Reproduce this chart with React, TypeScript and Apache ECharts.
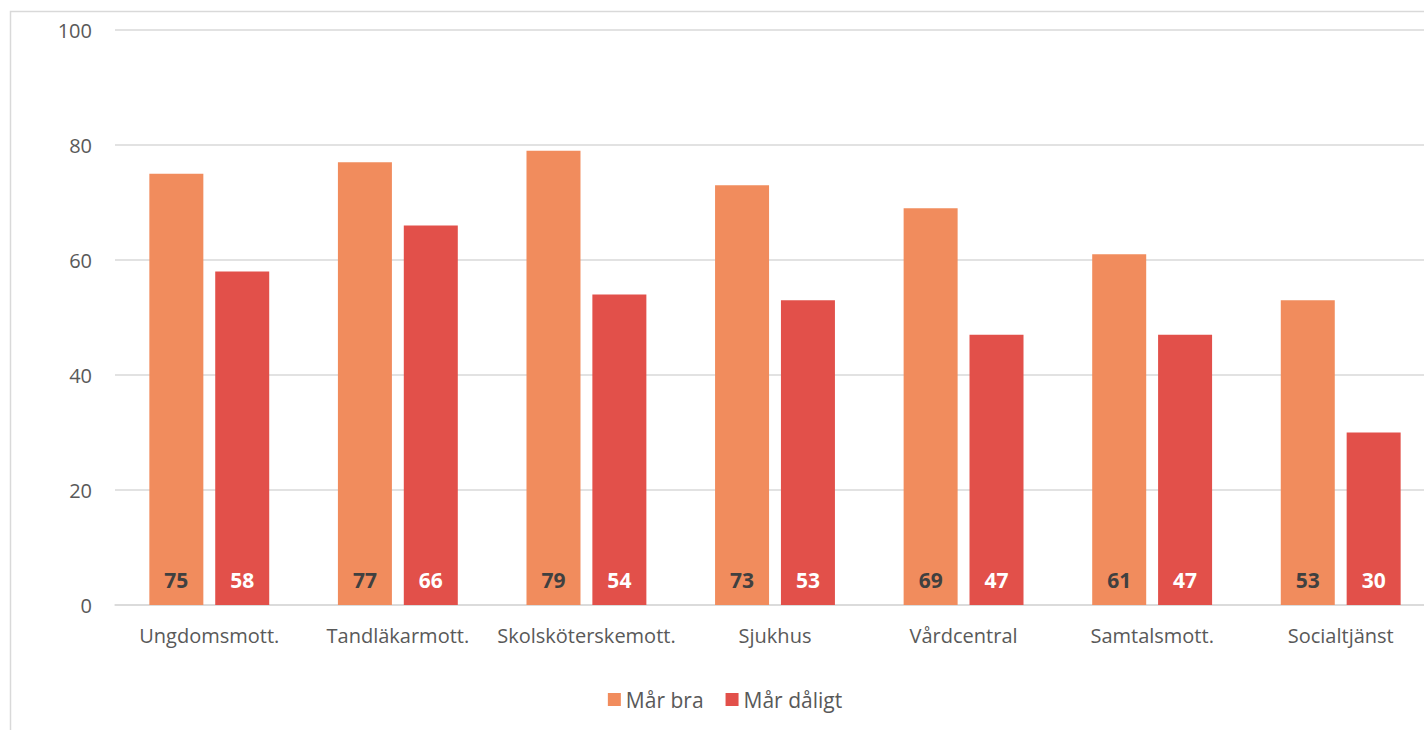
import React, { useEffect, useRef } from "react";
import * as echarts from "echarts";

const categories = [
  "Ungdomsmott.",
  "Tandläkarmott.",
  "Skolsköterskemott.",
  "Sjukhus",
  "Vårdcentral",
  "Samtalsmott.",
  "Socialtjänst",
];
const marBra = [75, 77, 79, 73, 69, 61, 53];
const marDaligt = [58, 66, 54, 53, 47, 47, 30];
const seriesNames = ["Mår bra", "Mår dåligt"];

const FONT = "'Open Sans', 'Noto Sans', sans-serif";

export default function App() {
  const ref = useRef<HTMLDivElement>(null);
  useEffect(() => {
    if (!ref.current) return;
    const chart = echarts.init(ref.current, undefined, { renderer: "svg" });
    chart.setOption({
      animation: false,
      backgroundColor: "#ffffff",
      textStyle: { fontFamily: FONT },
      graphic: [
        {
          type: "rect",
          shape: { x: 10.5, y: 11.5, width: 1500, height: 800 },
          style: { fill: "none", stroke: "#d9d9d9", lineWidth: 1.5 },
          silent: true,
        },
      ],
      legend: {
        bottom: 45,
        left: "center",
        itemWidth: 13,
        itemHeight: 13,
        itemGap: 22,
        icon: "rect",
        textStyle: { fontSize: 21, color: "#595959", fontFamily: FONT },
        data: seriesNames,
      },
      grid: { left: 115, right: 15, top: 30, bottom: 155 },
      xAxis: {
        type: "category",
        data: categories,
        axisLine: { lineStyle: { color: "#d9d9d9", width: 1.5 } },
        axisTick: { show: false },
        axisLabel: {
          fontSize: 20,
          color: "#595959",
          margin: 20,
          interval: 0,
          fontFamily: FONT,
        },
      },
      yAxis: {
        type: "value",
        min: 0,
        max: 100,
        interval: 20,
        axisLine: { show: false },
        axisTick: { show: false },
        splitLine: { lineStyle: { color: "#d9d9d9", width: 1.5 } },
        axisLabel: { fontSize: 20, color: "#595959", margin: 23, fontFamily: FONT },
      },
      series: [
        {
          name: seriesNames[0],
          type: "bar",
          data: marBra,
          barWidth: 54,
          barGap: "22%",
          itemStyle: { color: "#F18C5D" },
          label: {
            show: true,
            position: "insideBottom",
            distance: 15,
            color: "#404040",
            fontWeight: "bold",
            fontSize: 21,
            fontFamily: FONT,
          },
        },
        {
          name: seriesNames[1],
          type: "bar",
          data: marDaligt,
          barWidth: 54,
          itemStyle: { color: "#E2504A" },
          label: {
            show: true,
            position: "insideBottom",
            distance: 15,
            color: "#ffffff",
            fontWeight: "bold",
            fontSize: 21,
            fontFamily: FONT,
          },
        },
      ],
    });
    return () => chart.dispose();
  }, []);
  return (
    <div
      style={{
        position: "fixed",
        left: 0,
        top: 0,
        width: 1424,
        height: 730,
        overflow: "hidden",
        background: "#fff",
      }}
    >
      <div
        ref={ref}
        style={{ position: "absolute", left: 0, top: 0, width: 1450, height: 760 }}
      />
    </div>
  );
}
